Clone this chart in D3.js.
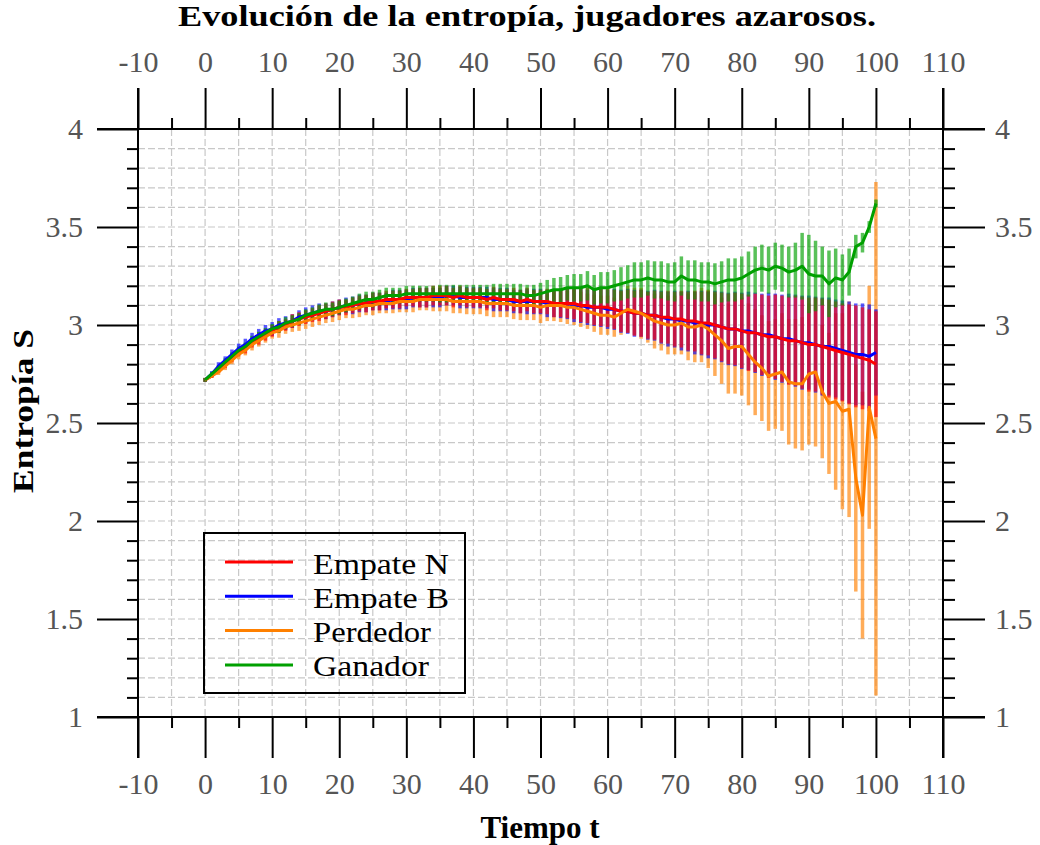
<!DOCTYPE html>
<html>
<head>
<meta charset="UTF-8">
<title>Evolución de la entropía</title>
<script src="https://cdn.jsdelivr.net/npm/d3@7/dist/d3.min.js"></script>
<style>
  body { margin:0; background:#fff; }
  text { font-family: "Liberation Serif", "DejaVu Serif", serif; }
</style>
</head>
<body>
<svg id="chart" width="1040" height="845"></svg>
<script>
// time steps (one sample per unit of t)
const tiempo = d3.range(0, 101, 1);

const xTickLabels = [-10, 0, 10, 20, 30, 40, 50, 60, 70, 80, 90, 100, 110];
const yTickLabels = [1, 1.5, 2, 2.5, 3, 3.5, 4];

const seriesNames = ['Empate N', 'Empate B', 'Perdedor', 'Ganador'];

// mean entropy per series
const empateN = [
  2.72, 2.74, 2.77, 2.80, 2.83, 2.86, 2.88, 2.91, 2.93, 2.95,
  2.97, 2.99, 3.00, 3.02, 3.03, 3.04, 3.05, 3.06, 3.07, 3.08,
  3.09, 3.09, 3.10, 3.11, 3.11, 3.12, 3.12, 3.13, 3.13, 3.13,
  3.14, 3.14, 3.14, 3.14, 3.15, 3.15, 3.15, 3.14, 3.15, 3.14,
  3.14, 3.14, 3.13, 3.14, 3.13, 3.13, 3.13, 3.12, 3.13, 3.12,
  3.12, 3.12, 3.11, 3.11, 3.11, 3.11, 3.10, 3.10, 3.09, 3.09,
  3.09, 3.08, 3.07, 3.07, 3.06, 3.06, 3.05, 3.05, 3.04, 3.04,
  3.03, 3.03, 3.02, 3.02, 3.01, 3.01, 3.00, 2.99, 2.98, 2.98,
  2.97, 2.96, 2.96, 2.95, 2.94, 2.94, 2.93, 2.92, 2.92, 2.91,
  2.90, 2.90, 2.89, 2.88, 2.87, 2.86, 2.85, 2.84, 2.83, 2.82,
  2.80
];
const empateB = [
  2.72, 2.75, 2.79, 2.82, 2.85, 2.88, 2.90, 2.93, 2.95, 2.97,
  2.98, 3.00, 3.01, 3.02, 3.04, 3.05, 3.06, 3.07, 3.07, 3.08,
  3.09, 3.10, 3.10, 3.11, 3.11, 3.12, 3.12, 3.12, 3.13, 3.13,
  3.13, 3.14, 3.14, 3.14, 3.14, 3.14, 3.15, 3.15, 3.14, 3.14,
  3.14, 3.14, 3.14, 3.13, 3.13, 3.13, 3.12, 3.12, 3.12, 3.12,
  3.12, 3.11, 3.11, 3.11, 3.11, 3.10, 3.10, 3.09, 3.09, 3.09,
  3.08, 3.08, 3.07, 3.07, 3.06, 3.06, 3.05, 3.05, 3.04, 3.03,
  3.03, 3.02, 3.02, 3.01, 3.01, 3.00, 3.00, 2.99, 2.98, 2.98,
  2.97, 2.97, 2.96, 2.95, 2.95, 2.94, 2.93, 2.93, 2.92, 2.91,
  2.91, 2.90, 2.89, 2.89, 2.88, 2.87, 2.86, 2.85, 2.85, 2.84,
  2.86
];
const perdedor = [
  2.72, 2.74, 2.76, 2.79, 2.82, 2.85, 2.87, 2.90, 2.92, 2.94,
  2.96, 2.97, 2.99, 3.00, 3.01, 3.02, 3.03, 3.04, 3.05, 3.06,
  3.07, 3.08, 3.08, 3.09, 3.10, 3.10, 3.11, 3.11, 3.11, 3.12,
  3.12, 3.12, 3.13, 3.13, 3.13, 3.13, 3.13, 3.12, 3.12, 3.12,
  3.12, 3.12, 3.11, 3.11, 3.11, 3.11, 3.10, 3.10, 3.10, 3.10,
  3.09, 3.10, 3.10, 3.10, 3.09, 3.09, 3.08, 3.07, 3.06, 3.05,
  3.05, 3.04, 3.06, 3.08, 3.07, 3.06, 3.04, 3.02, 3.01, 3.00,
  3.00, 3.01, 2.99, 2.99, 3.00, 2.98, 2.95, 2.92, 2.88, 2.89,
  2.89, 2.85, 2.81, 2.78, 2.74, 2.75, 2.76, 2.71, 2.70, 2.70,
  2.75, 2.76, 2.66, 2.60, 2.61, 2.56, 2.57, 2.22, 2.03, 2.58,
  2.42
];
const ganador = [
  2.72, 2.75, 2.78, 2.81, 2.84, 2.87, 2.89, 2.92, 2.94, 2.96,
  2.98, 2.99, 3.01, 3.02, 3.03, 3.05, 3.06, 3.07, 3.08, 3.08,
  3.09, 3.10, 3.11, 3.12, 3.13, 3.13, 3.14, 3.15, 3.15, 3.15,
  3.16, 3.16, 3.16, 3.16, 3.16, 3.16, 3.16, 3.16, 3.16, 3.16,
  3.16, 3.16, 3.16, 3.16, 3.16, 3.16, 3.16, 3.16, 3.15, 3.15,
  3.16, 3.17, 3.18, 3.18, 3.19, 3.19, 3.19, 3.20, 3.18, 3.19,
  3.19, 3.20, 3.21, 3.22, 3.23, 3.23, 3.24, 3.23, 3.23, 3.22,
  3.22, 3.25, 3.23, 3.23, 3.22, 3.22, 3.21, 3.22, 3.23, 3.23,
  3.24, 3.26, 3.28, 3.29, 3.28, 3.30, 3.29, 3.27, 3.28, 3.30,
  3.26, 3.25, 3.25, 3.21, 3.24, 3.23, 3.27, 3.40, 3.42, 3.50,
  3.62
];

// half-length of the error bars
const errEmpateN = [
  0.01, 0.01, 0.015, 0.02, 0.02, 0.02, 0.025, 0.025, 0.03, 0.03,
  0.03, 0.03, 0.03, 0.035, 0.035, 0.035, 0.035, 0.04, 0.04, 0.04,
  0.04, 0.04, 0.04, 0.04, 0.045, 0.045, 0.045, 0.045, 0.045, 0.045,
  0.045, 0.045, 0.05, 0.05, 0.05, 0.05, 0.05, 0.05, 0.05, 0.05,
  0.05, 0.05, 0.055, 0.055, 0.055, 0.055, 0.06, 0.06, 0.06, 0.06,
  0.06, 0.065, 0.07, 0.07, 0.075, 0.08, 0.085, 0.09, 0.09, 0.095,
  0.10, 0.10, 0.105, 0.11, 0.115, 0.12, 0.12, 0.125, 0.13, 0.135,
  0.14, 0.145, 0.15, 0.155, 0.16, 0.165, 0.17, 0.175, 0.18, 0.185,
  0.19, 0.195, 0.20, 0.205, 0.21, 0.215, 0.22, 0.225, 0.23, 0.235,
  0.24, 0.24, 0.245, 0.25, 0.25, 0.25, 0.255, 0.26, 0.26, 0.26,
  0.27
];
const errEmpateB = [
  0.01, 0.015, 0.02, 0.02, 0.025, 0.025, 0.03, 0.03, 0.03, 0.03,
  0.035, 0.035, 0.035, 0.035, 0.035, 0.04, 0.04, 0.04, 0.04, 0.04,
  0.04, 0.04, 0.045, 0.045, 0.045, 0.045, 0.045, 0.045, 0.05, 0.05,
  0.05, 0.05, 0.05, 0.05, 0.05, 0.05, 0.05, 0.05, 0.055, 0.055,
  0.055, 0.055, 0.055, 0.06, 0.06, 0.06, 0.06, 0.06, 0.065, 0.065,
  0.065, 0.07, 0.07, 0.075, 0.08, 0.085, 0.09, 0.09, 0.095, 0.10,
  0.10, 0.105, 0.11, 0.115, 0.12, 0.12, 0.125, 0.13, 0.135, 0.14,
  0.145, 0.15, 0.155, 0.16, 0.165, 0.17, 0.175, 0.18, 0.185, 0.19,
  0.195, 0.20, 0.205, 0.21, 0.215, 0.22, 0.225, 0.23, 0.235, 0.24,
  0.24, 0.245, 0.25, 0.25, 0.25, 0.255, 0.26, 0.26, 0.26, 0.265,
  0.22
];
const errPerdedor = [
  0.01, 0.01, 0.015, 0.02, 0.02, 0.025, 0.025, 0.03, 0.03, 0.03,
  0.03, 0.035, 0.035, 0.035, 0.04, 0.04, 0.04, 0.04, 0.04, 0.045,
  0.045, 0.045, 0.045, 0.05, 0.05, 0.05, 0.05, 0.05, 0.05, 0.055,
  0.055, 0.055, 0.055, 0.055, 0.06, 0.06, 0.06, 0.06, 0.06, 0.065,
  0.065, 0.065, 0.065, 0.07, 0.07, 0.07, 0.07, 0.075, 0.075, 0.075,
  0.08, 0.08, 0.08, 0.085, 0.085, 0.09, 0.09, 0.09, 0.095, 0.10,
  0.10, 0.10, 0.11, 0.12, 0.12, 0.13, 0.13, 0.14, 0.14, 0.15,
  0.15, 0.16, 0.17, 0.18, 0.19, 0.20, 0.21, 0.22, 0.23, 0.24,
  0.25, 0.26, 0.27, 0.27, 0.28, 0.28, 0.30, 0.32, 0.33, 0.34,
  0.36, 0.38, 0.34, 0.36, 0.45, 0.50, 0.55, 0.58, 0.63, 0.62,
  1.31
];
const errGanador = [
  0.01, 0.01, 0.015, 0.02, 0.02, 0.02, 0.02, 0.025, 0.025, 0.025,
  0.025, 0.03, 0.03, 0.03, 0.03, 0.03, 0.03, 0.035, 0.035, 0.035,
  0.035, 0.035, 0.035, 0.04, 0.04, 0.04, 0.04, 0.04, 0.04, 0.04,
  0.04, 0.04, 0.04, 0.04, 0.04, 0.045, 0.045, 0.045, 0.045, 0.045,
  0.045, 0.045, 0.045, 0.05, 0.05, 0.05, 0.05, 0.05, 0.055, 0.055,
  0.055, 0.06, 0.06, 0.065, 0.065, 0.07, 0.07, 0.075, 0.075, 0.08,
  0.08, 0.08, 0.085, 0.085, 0.09, 0.09, 0.09, 0.095, 0.095, 0.095,
  0.10, 0.10, 0.10, 0.10, 0.10, 0.10, 0.105, 0.105, 0.11, 0.11,
  0.11, 0.115, 0.12, 0.12, 0.12, 0.12, 0.12, 0.13, 0.14, 0.17,
  0.20, 0.18, 0.15, 0.17, 0.15, 0.13, 0.12, 0.06, 0.05, 0.03,
  0.02
];

const series = [
  { name: seriesNames[0], mean: empateN,  err: errEmpateN,  color: '#ff0000' },
  { name: seriesNames[1], mean: empateB,  err: errEmpateB,  color: '#0000ff' },
  { name: seriesNames[2], mean: perdedor, err: errPerdedor, color: '#ff8000' },
  { name: seriesNames[3], mean: ganador,  err: errGanador,  color: '#00a000' }
];
// orange bars at the back, blue under red, green on top
const barOrder = [2, 1, 0, 3];
const lineOrder = [1, 0, 2, 3];

const svg = d3.select('#chart');

const x = d3.scaleLinear().domain([-10, 110]).range([138, 943]);
const y = d3.scaleLinear().domain([1, 4]).range([717, 129]);

const xMinor = x.ticks(24).filter(d => !xTickLabels.includes(d));
const yMinor = y.ticks(30).filter(d => !yTickLabels.some(v => Math.abs(v - d) < 1e-6));

// dashed grid
const grid = svg.append('g')
  .attr('stroke', '#c8c8c8')
  .attr('stroke-width', 1.2)
  .attr('stroke-dasharray', '7,3');
grid.selectAll('line.gx')
  .data(x.ticks(24).filter(d => d > -10 && d < 110))
  .join('line').attr('class', 'gx')
  .attr('x1', d => x(d)).attr('x2', d => x(d))
  .attr('y1', y(4)).attr('y2', y(1));
grid.selectAll('line.gy')
  .data(y.ticks(30).filter(d => d > 1.001 && d < 3.999))
  .join('line').attr('class', 'gy')
  .attr('x1', x(-10)).attr('x2', x(110))
  .attr('y1', d => y(d)).attr('y2', d => y(d));

// error bars
const bars = svg.append('g');
barOrder.forEach(k => {
  const s = series[k];
  bars.append('g')
    .attr('stroke', s.color)
    .attr('stroke-opacity', 0.65)
    .attr('stroke-width', 3.5)
    .selectAll('line')
    .data(tiempo)
    .join('line')
    .attr('x1', d => x(d)).attr('x2', d => x(d))
    .attr('y1', (d, i) => y(s.mean[i] - s.err[i]))
    .attr('y2', (d, i) => y(s.mean[i] + s.err[i]));
});

// mean lines
const line = d3.line()
  .x((d, i) => x(tiempo[i]))
  .y(d => y(d));
const lines = svg.append('g');
lineOrder.forEach(k => {
  const s = series[k];
  lines.append('path')
    .datum(s.mean)
    .attr('fill', 'none')
    .attr('stroke', s.color)
    .attr('stroke-width', 3)
    .attr('stroke-linejoin', 'round')
    .attr('d', line);
});

// axes
function styleAxis(g){
  g.select('.domain').remove();
  g.selectAll('line').attr('stroke', '#000').attr('stroke-width', 2);
  g.selectAll('text')
    .attr('fill', '#555')
    .style('font-size', '30px')
    .style('font-family', '"Liberation Serif", serif');
}
const fmt = d => String(d);

svg.append('g').attr('transform', `translate(0,${y(1)})`)
  .call(d3.axisBottom(x).tickValues(xTickLabels).tickFormat(fmt).tickSize(41).tickPadding(15))
  .call(styleAxis);
svg.append('g').attr('transform', `translate(0,${y(1)})`)
  .call(d3.axisBottom(x).tickValues(xMinor).tickFormat('').tickSize(11))
  .call(styleAxis);
svg.append('g').attr('transform', `translate(0,${y(4)})`)
  .call(d3.axisTop(x).tickValues(xTickLabels).tickFormat(fmt).tickSize(41).tickPadding(16))
  .call(styleAxis);
svg.append('g').attr('transform', `translate(0,${y(4)})`)
  .call(d3.axisTop(x).tickValues(xMinor).tickFormat('').tickSize(11))
  .call(styleAxis);
svg.append('g').attr('transform', `translate(${x(-10)},0)`)
  .call(d3.axisLeft(y).tickValues(yTickLabels).tickFormat(fmt).tickSize(41).tickPadding(14))
  .call(styleAxis);
svg.append('g').attr('transform', `translate(${x(-10)},0)`)
  .call(d3.axisLeft(y).tickValues(yMinor).tickFormat('').tickSize(11))
  .call(styleAxis);
svg.append('g').attr('transform', `translate(${x(110)},0)`)
  .call(d3.axisRight(y).tickValues(yTickLabels).tickFormat(fmt).tickSize(42).tickPadding(10))
  .call(styleAxis);
svg.append('g').attr('transform', `translate(${x(110)},0)`)
  .call(d3.axisRight(y).tickValues(yMinor).tickFormat('').tickSize(12))
  .call(styleAxis);

// frame lines (axes cross and run past each other)
const frame = svg.append('g').attr('stroke', '#000').attr('stroke-width', 2);
[y(1), y(4)].forEach(py => {
  frame.append('line').attr('x1', x(-10) - 41).attr('x2', x(110) + 42).attr('y1', py).attr('y2', py);
});
[x(-10), x(110)].forEach(px => {
  frame.append('line').attr('x1', px).attr('x2', px).attr('y1', y(4) - 41).attr('y2', y(1) + 41);
});

// legend
const legend = svg.append('g');
legend.append('rect')
  .attr('x', 204).attr('y', 533).attr('width', 261).attr('height', 160)
  .attr('fill', 'none').attr('stroke', '#000').attr('stroke-width', 2);
const legendWidths = [136, 136, 118, 116];
series.forEach((s, i) => {
  const ly = 562 + i * 34.3;
  legend.append('line')
    .attr('x1', 225).attr('x2', 293).attr('y1', ly).attr('y2', ly)
    .attr('stroke', s.color).attr('stroke-width', 3);
  legend.append('text')
    .attr('x', 313).attr('y', ly + 11.5)
    .attr('textLength', legendWidths[i]).attr('lengthAdjust', 'spacingAndGlyphs')
    .style('font-size', '29px').attr('fill', '#000')
    .text(s.name);
});

// titles
svg.append('text')
  .attr('x', 527).attr('y', 26).attr('text-anchor', 'middle')
  .attr('textLength', 698).attr('lengthAdjust', 'spacingAndGlyphs')
  .style('font-size', '30px').style('font-weight', 'bold')
  .text('Evolución de la entropía, jugadores azarosos.');
svg.append('text')
  .attr('x', 540).attr('y', 838).attr('text-anchor', 'middle')
  .style('font-size', '31px').style('font-weight', 'bold')
  .text('Tiempo t');
svg.append('text')
  .attr('transform', `translate(33,${411}) rotate(-90)`)
  .attr('text-anchor', 'middle')
  .attr('textLength', 164).attr('lengthAdjust', 'spacingAndGlyphs')
  .style('font-size', '30px').style('font-weight', 'bold')
  .text('Entropía S');
</script>
</body>
</html>
